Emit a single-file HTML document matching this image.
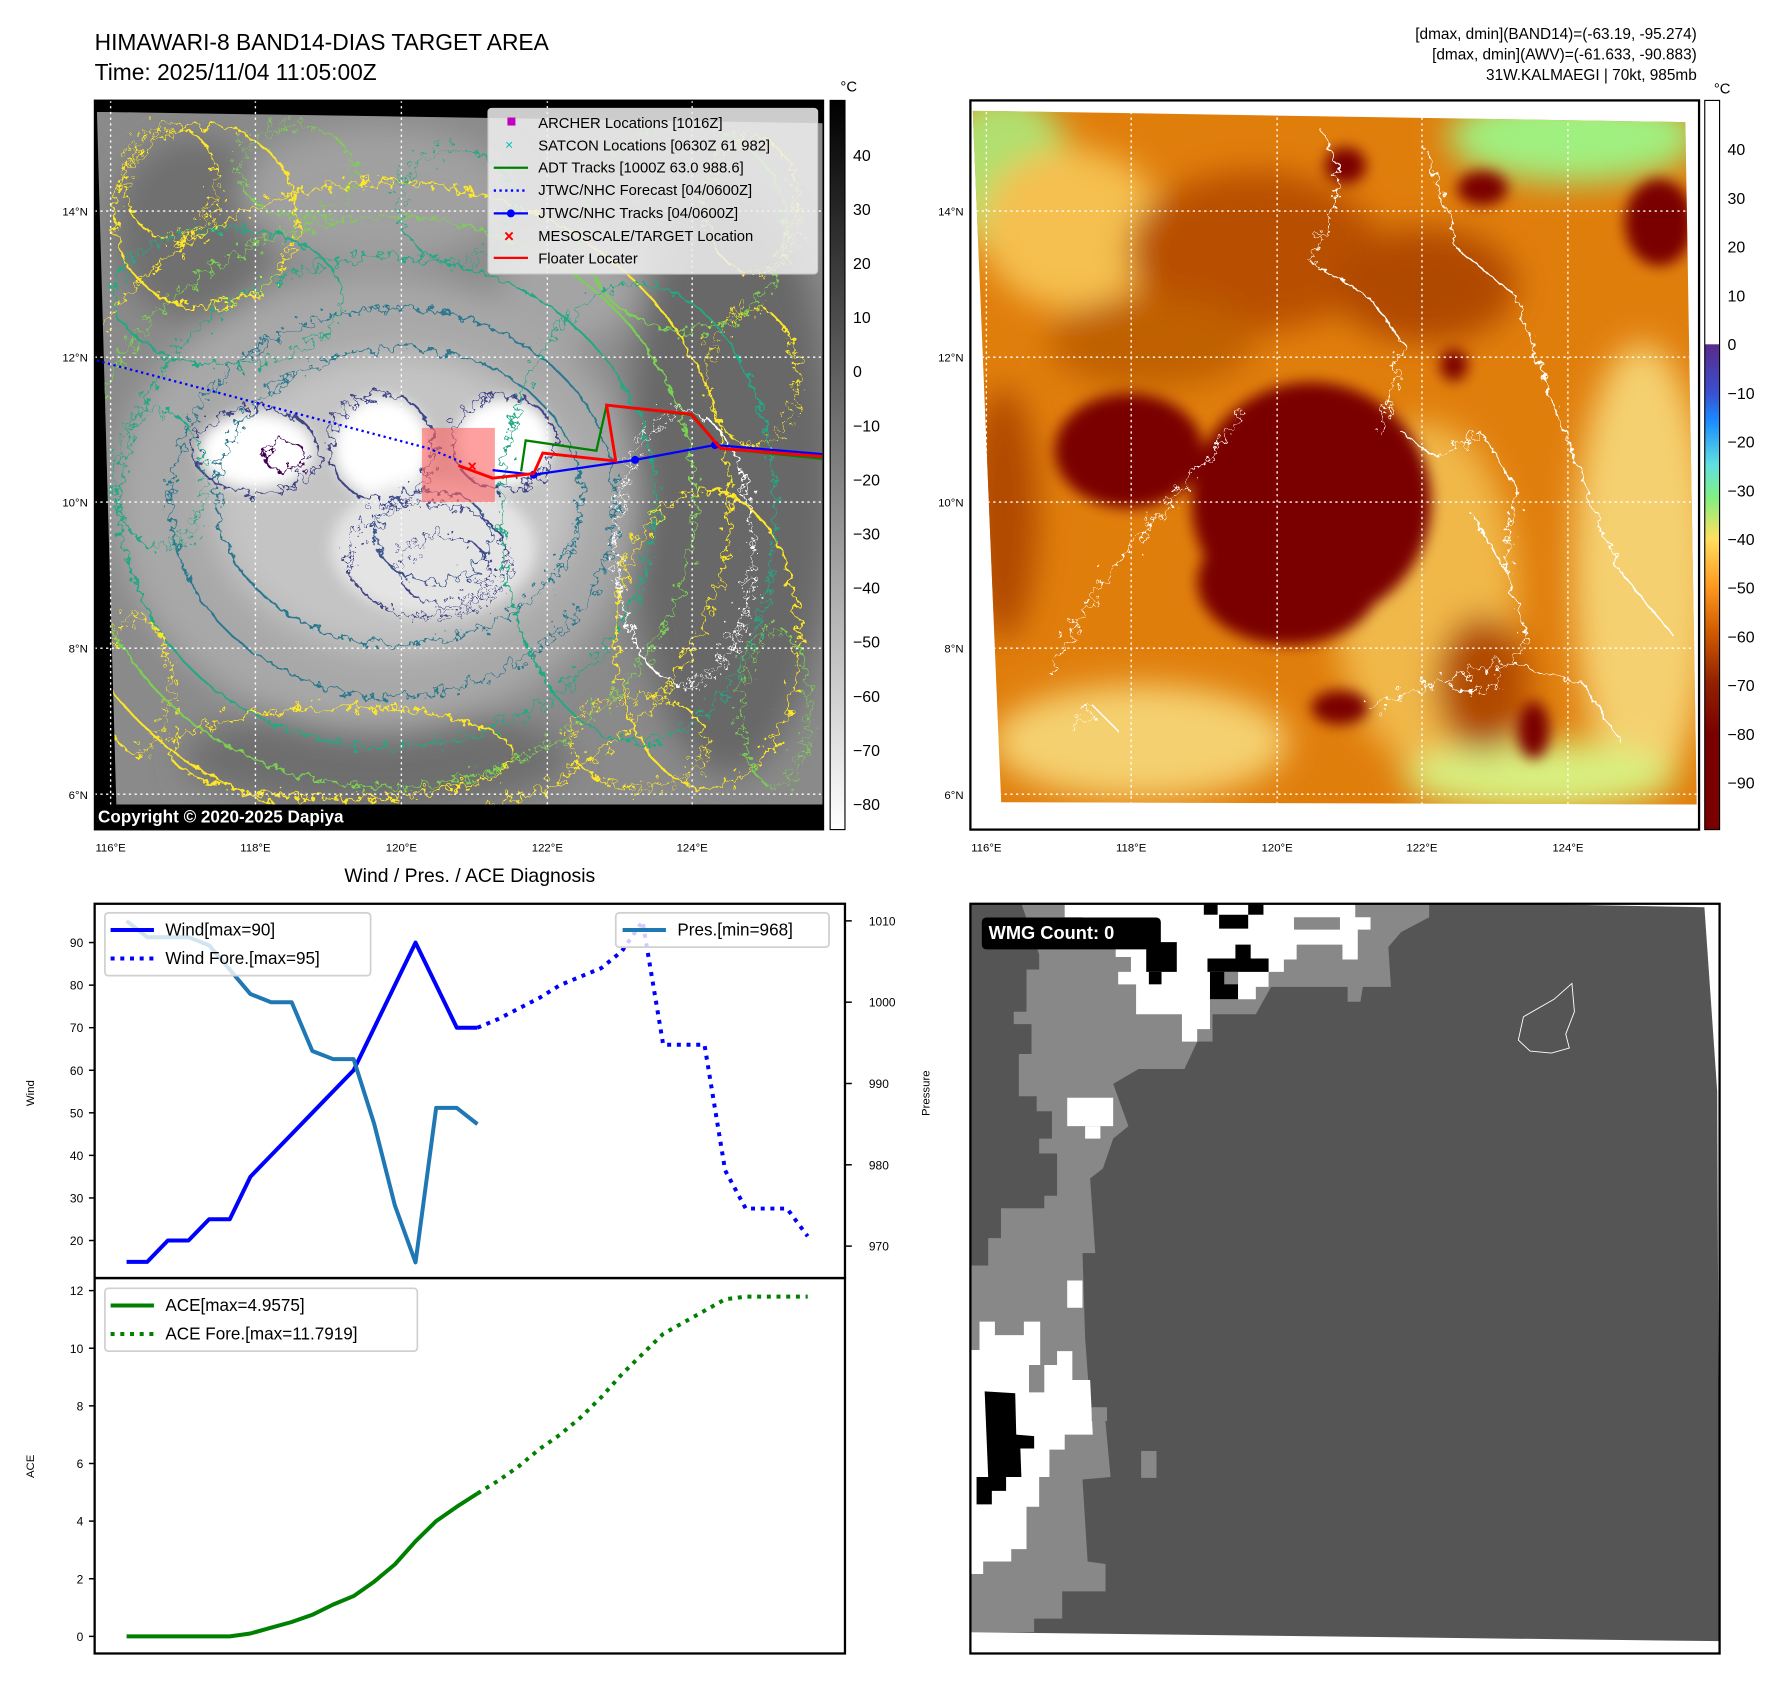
<!DOCTYPE html>
<html><head><meta charset="utf-8"><style>
html,body{margin:0;padding:0;background:#fff;}
svg{display:block;font-family:"Liberation Sans","DejaVu Sans",sans-serif;}
</style></head><body>
<svg id="root" width="1788" height="1690" viewBox="0 0 1568 1481" preserveAspectRatio="none" xmlns="http://www.w3.org/2000/svg">
<defs>
  <filter id="blur6" x="-20%" y="-20%" width="140%" height="140%"><feGaussianBlur stdDeviation="6"/></filter>
  <filter id="blur14" x="-30%" y="-30%" width="160%" height="160%"><feGaussianBlur stdDeviation="14"/></filter>
  <filter id="wig" x="-5%" y="-5%" width="110%" height="110%">
    <feTurbulence type="fractalNoise" baseFrequency="0.12" numOctaves="3" seed="3" result="n"/>
    <feDisplacementMap in="SourceGraphic" in2="n" scale="22"/>
  </filter>
  <filter id="wig2" x="-5%" y="-5%" width="110%" height="110%">
    <feTurbulence type="fractalNoise" baseFrequency="0.15" numOctaves="3" seed="8" result="n"/>
    <feDisplacementMap in="SourceGraphic" in2="n" scale="30"/>
  </filter>
  <clipPath id="clipL"><polygon points="85,98 722,108 722,705 102,705"/></clipPath>
  <clipPath id="clipR"><polygon points="853,97 1478,107 1488,705 878,703"/></clipPath>
  <linearGradient id="cbL" x1="0" y1="0" x2="0" y2="1">
    <stop offset="0" stop-color="#000"/><stop offset="1" stop-color="#fff"/>
  </linearGradient>
  <linearGradient id="cbR" x1="0" y1="0" x2="0" y2="1">
    <stop offset="0" stop-color="#fff"/><stop offset="0.334" stop-color="#fff"/>
    <stop offset="0.335" stop-color="#5a2a8a"/><stop offset="0.40" stop-color="#3b4fd0"/>
    <stop offset="0.44" stop-color="#1a8cff"/><stop offset="0.50" stop-color="#60e0e0"/>
    <stop offset="0.545" stop-color="#80f080"/><stop offset="0.60" stop-color="#ffe060"/>
    <stop offset="0.665" stop-color="#ff9a20"/><stop offset="0.73" stop-color="#d05a00"/>
    <stop offset="0.80" stop-color="#902000"/><stop offset="0.87" stop-color="#7a0000"/>
    <stop offset="1" stop-color="#7a0000"/>
  </linearGradient>
</defs>

<text x="83" y="44" font-size="20">HIMAWARI-8 BAND14-DIAS TARGET AREA</text>
<text x="83" y="70" font-size="20">Time: 2025/11/04 11:05:00Z</text>
<g font-size="13.5" text-anchor="end">
  <text x="1488" y="34">[dmax, dmin](BAND14)=(-63.19, -95.274)</text>
  <text x="1488" y="52">[dmax, dmin](AWV)=(-61.633, -90.883)</text>
  <text x="1488" y="70">31W.KALMAEGI | 70kt, 985mb</text>
</g>

<!-- LEFT MAP -->
<g>
  <rect x="83" y="88" width="639" height="639" fill="#000"/>
  <g clip-path="url(#clipL)">
    <rect x="83" y="88" width="639" height="639" fill="#8a8a8a"/>
    <g filter="url(#blur14)">
      <ellipse cx="170" cy="200" rx="70" ry="80" fill="#6f6f6f"/>
      <ellipse cx="640" cy="420" rx="90" ry="260" fill="#686868"/>
      <ellipse cx="330" cy="665" rx="170" ry="45" fill="#6e6e6e"/>
      <ellipse cx="330" cy="440" rx="230" ry="200" fill="#a8a8a8"/>
      <ellipse cx="345" cy="440" rx="160" ry="130" fill="#c4c4c4"/>
      <ellipse cx="330" cy="170" rx="120" ry="60" fill="#a0a0a0"/>
      <ellipse cx="500" cy="250" rx="60" ry="50" fill="#a4a4a4"/>
    </g>
    <g filter="url(#blur6)">
      <ellipse cx="225" cy="395" rx="50" ry="33" fill="#fff"/>
      <ellipse cx="335" cy="392" rx="42" ry="44" fill="#fff"/>
      <ellipse cx="442" cy="388" rx="42" ry="38" fill="#fff"/>
      <ellipse cx="380" cy="480" rx="90" ry="60" fill="#e4e4e4"/>
    </g>
    <g fill="none" stroke-width="1.8" filter="url(#wig)">
      <ellipse cx="340" cy="440" rx="300" ry="280" stroke="#fde725"/>
      <ellipse cx="340" cy="440" rx="270" ry="250" stroke="#7ad151"/>
      <ellipse cx="340" cy="440" rx="235" ry="215" stroke="#22a884"/>
      <ellipse cx="345" cy="440" rx="195" ry="170" stroke="#2a788e"/>
      <ellipse cx="350" cy="435" rx="160" ry="130" stroke="#2a788e"/>
      <ellipse cx="225" cy="395" rx="55" ry="37" stroke="#414487"/>
      <ellipse cx="335" cy="392" rx="46" ry="47" stroke="#414487"/>
      <ellipse cx="442" cy="388" rx="46" ry="41" stroke="#414487"/>
      <ellipse cx="250" cy="400" rx="18" ry="14" stroke="#440154"/>
      <ellipse cx="380" cy="470" rx="50" ry="40" stroke="#3b528b"/>
      <ellipse cx="600" cy="200" rx="90" ry="90" stroke="#7ad151"/>
      <ellipse cx="180" cy="190" rx="80" ry="80" stroke="#fde725"/>
      <ellipse cx="620" cy="560" rx="80" ry="130" stroke="#fde725"/>
      <ellipse cx="300" cy="660" rx="150" ry="40" stroke="#fde725"/>
      <ellipse cx="560" cy="450" rx="120" ry="200" stroke="#22a884"/>
      <ellipse cx="200" cy="260" rx="100" ry="60" stroke="#22a884"/>
    </g>
    <g fill="none" stroke-width="1.6" filter="url(#wig2)">
      <ellipse cx="150" cy="160" rx="40" ry="50" stroke="#fde725"/>
      <ellipse cx="260" cy="150" rx="50" ry="40" stroke="#7ad151"/>
      <ellipse cx="660" cy="330" rx="40" ry="60" stroke="#fde725"/>
      <ellipse cx="560" cy="650" rx="60" ry="40" stroke="#fde725"/>
      <ellipse cx="120" cy="600" rx="30" ry="60" stroke="#fde725"/>
      <ellipse cx="680" cy="620" rx="30" ry="70" stroke="#7ad151"/>
      <ellipse cx="375" cy="490" rx="70" ry="50" stroke="#414487"/>
      <ellipse cx="390" cy="500" rx="40" ry="30" stroke="#414487"/>
      <ellipse cx="600" cy="480" rx="60" ry="120" stroke="#ffffff"/>
      <ellipse cx="400" cy="180" rx="50" ry="50" stroke="#22a884"/>
      <ellipse cx="660" cy="180" rx="40" ry="60" stroke="#fde725"/>
      <ellipse cx="140" cy="420" rx="40" ry="60" stroke="#22a884"/>
    </g>
  </g>
  <g stroke="#fff" stroke-width="1.2" stroke-dasharray="2 3">
    <line x1="83" y1="185" x2="722" y2="185"/><line x1="83" y1="313" x2="722" y2="313"/>
    <line x1="83" y1="440" x2="722" y2="440"/><line x1="83" y1="568" x2="722" y2="568"/>
    <line x1="83" y1="696" x2="722" y2="696"/>
    <line x1="97" y1="88" x2="97" y2="727"/><line x1="224" y1="88" x2="224" y2="727"/>
    <line x1="352" y1="88" x2="352" y2="727"/><line x1="480" y1="88" x2="480" y2="727"/>
    <line x1="607" y1="88" x2="607" y2="727"/>
  </g>
  <rect x="370" y="375" width="64" height="65" fill="#ff6060" fill-opacity="0.6"/>
  <polyline points="85,316 376,393 405,405" fill="none" stroke="#0000ff" stroke-width="2" stroke-dasharray="2 3"/>
  <polyline points="457,413 461,386 523,395 532,355 608,364 632,393 721,402" fill="none" stroke="#008000" stroke-width="2"/>
  <polyline points="432,412 468,416 557,403 627,390 721,398" fill="none" stroke="#0000ff" stroke-width="2"/>
  <g fill="#0000ff"><circle cx="468" cy="416" r="3.5"/><circle cx="557" cy="403" r="3.5"/><circle cx="627" cy="390" r="3.5"/></g>
  <polyline points="402,408 432,419 468,415 476,397 540,404 532,355 606,363 632,393 721,400" fill="none" stroke="#ff0000" stroke-width="2.5"/>
  <text x="410" y="413" fill="#ff0000" font-size="14" font-weight="bold">×</text>
  <rect x="83" y="705" width="639" height="22" fill="#000"/>
  <text x="86" y="721" fill="#fff" font-size="15" font-weight="bold">Copyright © 2020-2025 Dapiya</text>
  <rect x="83" y="88" width="639" height="639" fill="none" stroke="#000" stroke-width="1.5"/>
  <g font-size="13">
    <rect x="428" y="95" width="289" height="145" fill="#f0f0f0" fill-opacity="0.85" stroke="#ccc" rx="3"/>
    <rect x="445" y="103" width="7" height="7" fill="#bf00bf"/><text x="472" y="112">ARCHER Locations [1016Z]</text>
    <text x="443" y="131" fill="#00bfbf" font-size="12">×</text><text x="472" y="132">SATCON Locations [0630Z 61 982]</text>
    <line x1="433" y1="147" x2="463" y2="147" stroke="#008000" stroke-width="2"/><text x="472" y="151">ADT Tracks [1000Z 63.0 988.6]</text>
    <line x1="433" y1="167" x2="463" y2="167" stroke="#0000ff" stroke-width="2" stroke-dasharray="2 3"/><text x="472" y="171">JTWC/NHC Forecast [04/0600Z]</text>
    <line x1="433" y1="187" x2="463" y2="187" stroke="#0000ff" stroke-width="2"/><circle cx="448" cy="187" r="3.5" fill="#0000ff"/><text x="472" y="191">JTWC/NHC Tracks [04/0600Z]</text>
    <text x="442" y="212" fill="#ff0000" font-size="15" font-weight="bold">×</text><text x="472" y="211">MESOSCALE/TARGET Location</text>
    <line x1="433" y1="226" x2="463" y2="226" stroke="#ff0000" stroke-width="2"/><text x="472" y="231">Floater Locater</text>
  </g>
  <g font-size="10" text-anchor="end">
    <text x="77" y="189">14°N</text><text x="77" y="317">12°N</text><text x="77" y="444">10°N</text><text x="77" y="572">8°N</text><text x="77" y="700">6°N</text>
  </g>
  <g font-size="10" text-anchor="middle">
    <text x="97" y="746">116°E</text><text x="224" y="746">118°E</text><text x="352" y="746">120°E</text><text x="480" y="746">122°E</text><text x="607" y="746">124°E</text>
  </g>
  <g>
    <rect x="728" y="88" width="13" height="639" fill="url(#cbL)" stroke="#000" stroke-width="1"/>
    <text x="737" y="80" font-size="13">°C</text>
    <g font-size="14" id="cbLticks"></g>
  </g>
</g>

<!-- RIGHT MAP -->
<g>
  <rect x="851" y="88" width="639" height="639" fill="#fff"/>
  <g clip-path="url(#clipR)">
    <rect x="851" y="88" width="639" height="639" fill="#e07e0c"/>
    <g filter="url(#blur14)">
      <ellipse cx="880" cy="150" rx="60" ry="70" fill="#b0e070"/>
      <ellipse cx="1380" cy="120" rx="110" ry="40" fill="#a0f080"/>
      <ellipse cx="940" cy="200" rx="80" ry="70" fill="#f5c050"/>
      <ellipse cx="1250" cy="520" rx="80" ry="150" fill="#f0b848"/>
      <ellipse cx="1440" cy="500" rx="60" ry="200" fill="#f5d070"/>
      <ellipse cx="1000" cy="650" rx="130" ry="50" fill="#f5d070"/>
      <ellipse cx="1350" cy="680" rx="120" ry="30" fill="#d8f080"/>
      <ellipse cx="1100" cy="220" rx="110" ry="70" fill="#b85000"/>
      <ellipse cx="1250" cy="250" rx="80" ry="50" fill="#b04800"/>
      <ellipse cx="880" cy="450" rx="30" ry="110" fill="#b04800"/>
      <ellipse cx="1010" cy="300" rx="90" ry="40" fill="#c06000"/>
      <ellipse cx="1300" cy="600" rx="40" ry="60" fill="#b04a00"/>
    </g>
    <g filter="url(#blur6)" fill="#7a0000">
      <ellipse cx="990" cy="395" rx="65" ry="50"/>
      <ellipse cx="1150" cy="440" rx="105" ry="105"/>
      <ellipse cx="1130" cy="510" rx="80" ry="55"/>
      <ellipse cx="1455" cy="195" rx="30" ry="38"/>
      <ellipse cx="1300" cy="165" rx="22" ry="15"/>
      <ellipse cx="1175" cy="620" rx="25" ry="15"/>
      <ellipse cx="1180" cy="145" rx="18" ry="16"/>
      <ellipse cx="1275" cy="320" rx="12" ry="14"/>
      <ellipse cx="1345" cy="640" rx="14" ry="25"/>
    </g>
    <g fill="none" stroke="#fff" stroke-width="1.3" filter="url(#wig)">
      <polyline points="920,590 960,520 1000,470 1060,400 1090,360"/>
      <polyline points="1160,115 1175,150 1170,180 1150,230 1200,260 1230,300 1210,380"/>
      <polyline points="1250,130 1280,220 1330,260 1350,320 1380,400 1420,500 1470,560"/>
      <polyline points="1290,450 1320,500 1340,560 1300,610 1270,600"/>
      <polyline points="1200,620 1250,600 1320,580 1390,600 1420,650"/>
      <polyline points="940,640 960,620 980,640"/>
      <polyline points="1230,380 1260,400 1300,380 1330,430 1320,500"/>
    </g>
  </g>
  <g stroke="#fff" stroke-width="1.2" stroke-dasharray="2 3">
    <line x1="851" y1="185" x2="1490" y2="185"/><line x1="851" y1="313" x2="1490" y2="313"/>
    <line x1="851" y1="440" x2="1490" y2="440"/><line x1="851" y1="568" x2="1490" y2="568"/>
    <line x1="851" y1="696" x2="1490" y2="696"/>
    <line x1="865" y1="88" x2="865" y2="727"/><line x1="992" y1="88" x2="992" y2="727"/>
    <line x1="1120" y1="88" x2="1120" y2="727"/><line x1="1247" y1="88" x2="1247" y2="727"/>
    <line x1="1375" y1="88" x2="1375" y2="727"/>
  </g>
  <rect x="851" y="88" width="639" height="639" fill="none" stroke="#000" stroke-width="2"/>
  <g font-size="10" text-anchor="end">
    <text x="845" y="189">14°N</text><text x="845" y="317">12°N</text><text x="845" y="444">10°N</text><text x="845" y="572">8°N</text><text x="845" y="700">6°N</text>
  </g>
  <g font-size="10" text-anchor="middle">
    <text x="865" y="746">116°E</text><text x="992" y="746">118°E</text><text x="1120" y="746">120°E</text><text x="1247" y="746">122°E</text><text x="1375" y="746">124°E</text>
  </g>
  <g>
    <rect x="1495" y="88" width="13" height="639" fill="url(#cbR)" stroke="#000" stroke-width="1"/>
    <text x="1503" y="82" font-size="13">°C</text>
    <g font-size="14" id="cbRticks"></g>
  </g>
</g>

<text x="412" y="773" font-size="17" text-anchor="middle">Wind / Pres. / ACE Diagnosis</text>
<g id="ts">
  <rect x="83" y="792" width="658" height="657" fill="#fff"/>
  <g id="marks"></g>
  <g id="ticks" font-size="10.5"></g>
  <rect x="83" y="792" width="658" height="328" fill="none" stroke="#000" stroke-width="2"/>
  <rect x="83" y="1120" width="658" height="329" fill="none" stroke="#000" stroke-width="2"/>
  <text transform="translate(30,958) rotate(-90)" font-size="10" text-anchor="middle">Wind</text>
  <text transform="translate(815,958) rotate(-90)" font-size="10" text-anchor="middle">Pressure</text>
  <text transform="translate(30,1285) rotate(-90)" font-size="10" text-anchor="middle">ACE</text>
  <g font-size="15">
    <rect x="92" y="800" width="233" height="55" fill="#fff" fill-opacity="0.8" stroke="#d0d0d0" stroke-width="1.5" rx="3"/>
    <line x1="97" y1="815" x2="135" y2="815" stroke="#0000ff" stroke-width="3.5"/><text x="145" y="820">Wind[max=90]</text>
    <line x1="97" y1="840" x2="135" y2="840" stroke="#0000ff" stroke-width="3.5" stroke-dasharray="3.5 5"/><text x="145" y="845">Wind Fore.[max=95]</text>
  </g>
  <g font-size="15">
    <rect x="540" y="800" width="187" height="30" fill="#fff" fill-opacity="0.8" stroke="#d0d0d0" stroke-width="1.5" rx="3"/>
    <line x1="546" y1="815" x2="584" y2="815" stroke="#1f77b4" stroke-width="3.5"/><text x="594" y="820">Pres.[min=968]</text>
  </g>
  <g font-size="15">
    <rect x="92" y="1129" width="274" height="55" fill="#fff" fill-opacity="0.8" stroke="#d0d0d0" stroke-width="1.5" rx="3"/>
    <line x1="97" y1="1144" x2="135" y2="1144" stroke="#008000" stroke-width="3.5"/><text x="145" y="1149">ACE[max=4.9575]</text>
    <line x1="97" y1="1169" x2="135" y2="1169" stroke="#008000" stroke-width="3.5" stroke-dasharray="3.5 5"/><text x="145" y="1174">ACE Fore.[max=11.7919]</text>
  </g>
</g>

<g id="wmg">
  <rect x="851" y="792" width="657" height="657" fill="#fff"/>
  <g id="wmgshapes"></g>
  <rect x="851" y="792" width="657" height="657" fill="none" stroke="#000" stroke-width="2"/>
  <rect x="861" y="804" width="157" height="28" rx="4" fill="#000"/>
  <text x="867" y="823" fill="#fff" font-size="16" font-weight="bold">WMG Count: 0</text>
</g>

<script>
const NS = "http://www.w3.org/2000/svg";
const windObs = [15,15,20,20,25,25,35,40,45,50,55,60,70,80,90,80,70,70];
const windFore = [70,72,74.5,77,80,82,84,88,95,66,66,66,36.5,27.5,27.5,27.5,21];
const presObs = [1010,1008,1008,1008,1007,1004,1001,1000,1000,994,993,993,985,975,968,987,987,985];
const aceObs = [0,0,0,0,0,0,0.1,0.3,0.5,0.75,1.1,1.4,1.9,2.5,3.3,4.0,4.5,4.96];
const aceFore = [4.96,5.4,5.9,6.5,7.0,7.6,8.3,9.1,9.8,10.5,10.9,11.3,11.7,11.79,11.79,11.79,11.79];
const windTicks = [20,30,40,50,60,70,80,90];
const presTicks = [970,980,990,1000,1010];
const aceTicks = [0,2,4,6,8,10,12];
const cbLeftTicks = [40,30,20,10,0,-10,-20,-30,-40,-50,-60,-70,-80];
const cbRightTicks = [40,30,20,10,0,-10,-20,-30,-40,-50,-60,-70,-80,-90];
const foreStart = 17;

const xIdx = i => 111 + i * 18.1;
const yWind = v => 826 - (v - 90) * 3.73;
const yPres = p => 807 + (1010 - p) * 7.125;
const yAce = a => 1434 - a * 25.25;
const yCbL = v => 136 + (40 - v) * 4.74;
const yCbR = v => 131 + (40 - v) * 4.27;

const marks = document.getElementById('marks');
function poly(vals, off, yf, color, dashed, name) {
  const p = document.createElementNS(NS, 'polyline');
  p.setAttribute('points', vals.map((v, i) => xIdx(i + off).toFixed(1) + ',' + yf(v).toFixed(1)).join(' '));
  p.setAttribute('fill', 'none');
  p.setAttribute('stroke', color);
  p.setAttribute('stroke-width', '3.5');
  p.setAttribute('stroke-linejoin', 'round');
  if (dashed) p.setAttribute('stroke-dasharray', '3.5 5');
  
  
  marks.appendChild(p);
}
poly(windObs, 0, yWind, '#0000ff', false, 'wind-line');
poly(windFore, foreStart, yWind, '#0000ff', true, 'wind-forecast-line');
poly(presObs, 0, yPres, '#1f77b4', false, 'pressure-line');
poly(aceObs, 0, yAce, '#008000', false, 'ace-line');
poly(aceFore, foreStart, yAce, '#008000', true, 'ace-forecast-line');

const ticks = document.getElementById('ticks');
function tick(x1, x2, y, label, tx, anchor, name) {
  const l = document.createElementNS(NS, 'line');
  l.setAttribute('x1', x1); l.setAttribute('x2', x2); l.setAttribute('y1', y); l.setAttribute('y2', y);
  l.setAttribute('stroke', '#000'); l.setAttribute('stroke-width', '1.3');
  ticks.appendChild(l);
  const t = document.createElementNS(NS, 'text');
  t.setAttribute('x', tx); t.setAttribute('y', y + 4);
  t.setAttribute('text-anchor', anchor);
  t.textContent = label;
  
  
  ticks.appendChild(t);
}
windTicks.forEach(v => tick(78, 83, yWind(v), v, 73, 'end', 'wind-tick-label'));
presTicks.forEach(v => tick(741, 747, yPres(v), v, 762, 'start', 'pressure-tick-label'));
aceTicks.forEach(v => tick(78, 83, yAce(v), v, 73, 'end', 'ace-tick-label'));

const cbl = document.getElementById('cbLticks');
cbLeftTicks.forEach(v => {
  const t = document.createElementNS(NS, 'text');
  t.setAttribute('x', 748); t.setAttribute('y', yCbL(v) + 5);
  t.textContent = v < 0 ? '\u2212' + Math.abs(v) : v;
  
  
  cbl.appendChild(t);
});
const cbr = document.getElementById('cbRticks');
cbRightTicks.forEach(v => {
  const t = document.createElementNS(NS, 'text');
  t.setAttribute('x', 1515); t.setAttribute('y', yCbR(v) + 5);
  t.textContent = v < 0 ? '\u2212' + Math.abs(v) : v;
  
  
  cbr.appendChild(t);
});

const wx = z => 851 + (z - 20) * 0.447;
const wy = z => 792 + (z - 8) * 0.436;
const g = document.getElementById('wmgshapes');
function wpoly(pts, fill) {
  const p = document.createElementNS(NS, 'polygon');
  const a = [];
  for (let i = 0; i < pts.length; i += 2) a.push(wx(pts[i]).toFixed(1) + ',' + wy(pts[i + 1]).toFixed(1));
  p.setAttribute('points', a.join(' '));
  p.setAttribute('fill', fill);
  g.appendChild(p);
}
function wrect(x1, y1, x2, y2, fill) { wpoly([x1,y1,x2,y1,x2,y2,x1,y2], fill); }
wpoly([20,8,1100,8,1460,15,1485,385,1490,1490,20,1472], '#555555');
wpoly([120,8,920,8,920,35,865,65,840,95,845,175,790,175,785,205,760,205,760,175,610,175,580,230,495,230,495,285,465,285,440,340,350,340,300,370,330,455,300,480,280,540,255,560,265,710,240,710,245,880,255,1020,285,1050,295,1160,240,1165,250,1330,285,1335,285,1390,200,1390,200,1445,145,1445,145,1472,20,1472,20,735,55,735,55,680,80,680,80,620,165,620,165,595,190,595,190,510,155,510,155,480,180,480,180,425,150,425,150,395,115,395,115,310,140,310,140,250,105,250,105,225,130,225,130,140,155,140,155,110], '#888888');
wpoly([205,8,775,8,775,35,805,35,805,60,780,60,780,120,750,120,750,90,660,90,660,120,635,120,635,145,605,145,605,175,580,175,580,200,490,200,490,260,465,260,465,285,435,285,435,230,345,230,345,170,310,170,310,145,335,145,335,115,305,115,305,95,240,95,240,35,205,35], '#ffffff');
wrect(655,35,745,60,'#888888');
wrect(365,85,425,145,'#000'); wrect(370,145,395,170,'#000');
wrect(485,118,605,145,'#000'); wrect(490,145,545,200,'#000');
wrect(478,8,505,30,'#000'); wrect(508,30,565,58,'#000'); wrect(565,8,595,30,'#000'); wrect(540,90,570,118,'#000');
wrect(518,145,545,170,'#888888');
wrect(210,398,300,455,'#fff'); wrect(245,455,275,480,'#fff'); wrect(210,765,240,820,'#fff');
wpoly([20,905,38,905,38,848,68,848,68,875,125,875,125,848,157,848,157,935,190,935,190,907,220,907,220,965,255,965,260,1075,205,1075,205,1105,175,1105,175,1160,155,1160,155,1220,130,1220,130,1305,100,1305,100,1330,45,1330,45,1355,20,1355], '#ffffff');
wrect(135,935,165,990,'#888888');
wrect(258,1020,288,1048,'#888888'); wrect(355,1108,385,1162,'#888888');
wpoly([48,988,108,992,110,1075,145,1078,145,1103,118,1103,120,1160,90,1160,90,1188,62,1188,62,1215,32,1215,32,1160,55,1160], '#000');
const ol = document.createElementNS(NS, 'polygon');
ol.setAttribute('points', [[1105,235],[1165,200],[1200,168],[1205,225],[1188,270],[1195,298],[1160,308],[1118,304],[1095,282]].map(p => wx(p[0]).toFixed(1) + ',' + wy(p[1]).toFixed(1)).join(' '));
ol.setAttribute('fill', 'none'); ol.setAttribute('stroke', '#fff'); ol.setAttribute('stroke-width', '0.8');
g.appendChild(ol);
</script>
</svg>
</body></html>
